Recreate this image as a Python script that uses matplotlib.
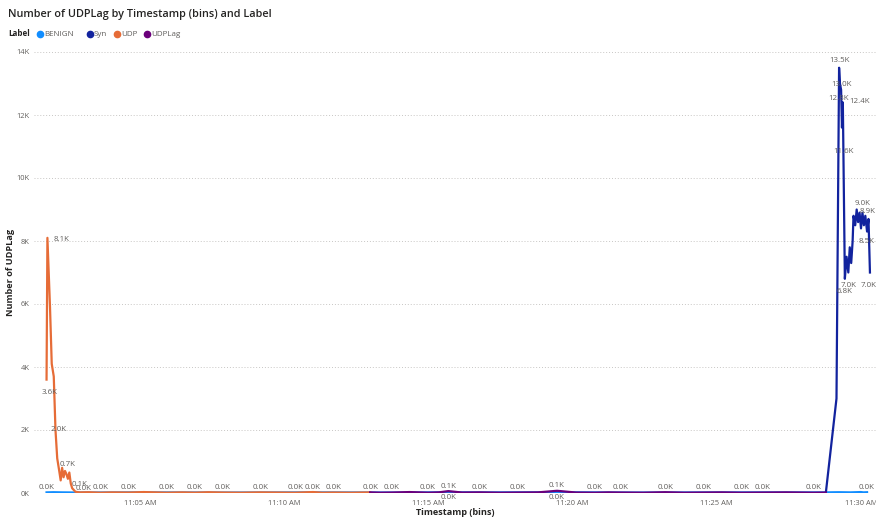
import matplotlib
matplotlib.use("Agg")
import matplotlib.pyplot as plt
from matplotlib.lines import Line2D
from matplotlib.ticker import FixedLocator, FuncFormatter

plt.rcParams['font.family'] = ['Open Sans', 'DejaVu Sans']

# timestamps are minutes after 11:00 AM
udp_t = [1.76, 1.79, 1.88, 1.94, 2.01, 2.07, 2.13, 2.20, 2.25, 2.30, 2.35, 2.40, 2.45,
         2.50, 2.55, 2.60, 2.65, 2.70, 2.76, 2.83, 2.91, 3.21, 3.62, 4.02, 4.60, 5.13,
         5.93, 6.45, 6.91, 7.37, 7.88, 8.49, 9.17, 9.80, 10.38, 11.00, 11.32, 11.70,
         12.33, 12.98]
udp_v = [3600, 8100, 5900, 4100, 3700, 2000, 1100, 700, 400, 800, 500, 700, 600,
         450, 650, 300, 150, 100, 40, 30, 20, 25, 10, 20, 15, 30, 10, 20, 12, 25, 15,
         10, 20, 15, 10, 30, 10, 15, 10, 20]

udplag_t = [12.98, 13.34, 13.74, 14.35, 14.99, 15.36, 15.69, 16.17, 16.79, 17.49, 18.10,
            18.80, 19.46, 20.12, 20.78, 21.24, 21.65, 22.45, 23.21, 23.87, 24.53, 25.18,
            25.87, 26.60, 27.41, 28.34, 28.78]
udplag_v = [20, 10, 15, 30, 10, 20, 60, 15, 20, 10, 15, 20, 70, 15, 10, 20, 15, 10, 25,
            10, 15, 20, 10, 15, 20, 10, 15]

syn_t = [28.78, 29.15, 29.24, 29.27, 29.31, 29.34, 29.37, 29.44, 29.50, 29.56, 29.61,
         29.66, 29.71, 29.74, 29.80, 29.85, 29.90, 29.95, 30.00, 30.05, 30.10, 30.15,
         30.21, 30.26, 30.31]
syn_v = [0, 3000, 13500, 13000, 12800, 11600, 12400, 6800, 7500, 7000, 7800, 7300,
         8000, 8800, 8500, 9000, 8600, 8900, 8400, 8900, 8500, 8800, 8300, 8700, 7000]

benign_t = [1.76, 2.00, 2.30, 2.91, 4.93, 7.97, 11.01, 14.04, 15.69, 17.08, 19.46, 22.14,
            25.18, 28.78, 29.23, 29.64, 29.99, 30.09, 30.21]
benign_v = [20, 25, 20, 15, 20, 15, 20, 15, 25, 20, 25, 15, 20, 20, 25, 20, 30, 20, 25]

# which points carry a data label, with (dx, dy) offsets in points
udp_labels = {0: (2, -12), 1: (10, -4), 5: (2, -2), 7: (6, 2), 17: (4, 1), 20: (3, 0),
              22: (0, 1), 24: (0, 1), 26: (0, 1), 28: (0, 1), 30: (0, 1), 32: (0, 1),
              34: (0, 1), 35: (0, 1), 37: (0, 1), 39: (0, 1)}
udplag_labels = {2: (0, 1), 4: (0, 1), 6: (0, 1), 8: (0, 1), 10: (0, 1), 12: (0, 1),
                 14: (0, 1), 16: (0, 1), 18: (0, 1), 20: (0, 1), 22: (0, 1), 23: (0, 1),
                 25: (0, 1)}
syn_labels = {2: (0, 3), 3: (1, -3), 4: (-2, -9), 5: (1, -20), 6: (12, -2), 7: (0, -12),
              9: (0, -12), 15: (4, 2), 17: (6, -2), 20: (2, -14), 24: (-1, -12)}
benign_labels = {0: (0, 1), 8: (0, -6), 10: (0, -6), 17: (2, 1)}

colors = {'BENIGN': '#118DFF', 'Syn': '#12239E', 'UDP': '#E66C37', 'UDPLag': '#6B007B'}
text_dark = '#252423'
text_gray = '#605E5C'

fig = plt.figure(figsize=(8.76, 5.22), dpi=100, facecolor='white')
ax = fig.add_axes([34 / 876, 29 / 522, 842 / 876, 441 / 522])

series = [('BENIGN', benign_t, benign_v, benign_labels),
          ('Syn', syn_t, syn_v, syn_labels),
          ('UDP', udp_t, udp_v, udp_labels),
          ('UDPLag', udplag_t, udplag_v, udplag_labels)]

for z, (name, t, v, labels) in enumerate(series):
    ax.plot(t, v, color=colors[name], lw=1.6, solid_joinstyle='round', zorder=3 + z)
    for i, (dx, dy) in labels.items():
        ax.annotate(f"{v[i] / 1000:.1f}K", (t[i], v[i]), xytext=(dx, dy),
                    textcoords='offset points', ha='center', va='bottom',
                    fontsize=5.7, color=text_gray, zorder=10)

ax.set_xlim(1.325, 30.52)
ax.set_ylim(0, 14000)
ax.set_yticks(range(0, 14001, 2000))
ax.yaxis.set_major_formatter(FuncFormatter(lambda y, _: f"{int(y / 1000)}K"))
ax.xaxis.set_major_locator(FixedLocator([5, 10, 15, 20, 25, 30]))
ax.xaxis.set_major_formatter(FuncFormatter(lambda m, _: f"11:{int(m):02d} AM"))
ax.tick_params(length=0, labelsize=5.4, labelcolor=text_gray)
ax.tick_params(axis='x', pad=5)
ax.tick_params(axis='y', pad=3)
for s in ax.spines.values():
    s.set_visible(False)
ax.grid(axis='y', color='#C8C6C4', lw=0.7, ls=(0, (1, 2)))
ax.set_axisbelow(True)

ax.set_xlabel("Timestamp (bins)", fontsize=6.6, fontweight='bold', color=text_dark, labelpad=1)
ax.set_ylabel("Number of UDPLag", fontsize=6.6, fontweight='bold', color=text_dark, labelpad=1)

fig.text(8 / 876, 1 - 14 / 522, "Number of UDPLag by Timestamp (bins) and Label",
         fontsize=7.8, fontweight='semibold', color=text_dark, va='center', ha='left')

# legend row
fig.text(8 / 876, 1 - 34 / 522, "Label", fontsize=5.8, fontweight='bold', color=text_dark,
         va='center', ha='left')
legend_x = [40, 90, 117, 147]
for (name, _, _, _), lx in zip(series, legend_x):
    fig.add_artist(Line2D([lx / 876], [1 - 34 / 522], marker='o', ms=4.5, color=colors[name],
                          lw=0, transform=fig.transFigure))
    fig.text((lx + 4) / 876, 1 - 34 / 522, name, fontsize=5.8, color=text_gray,
             va='center', ha='left')

fig.savefig("out.png", dpi=100, facecolor='white')
